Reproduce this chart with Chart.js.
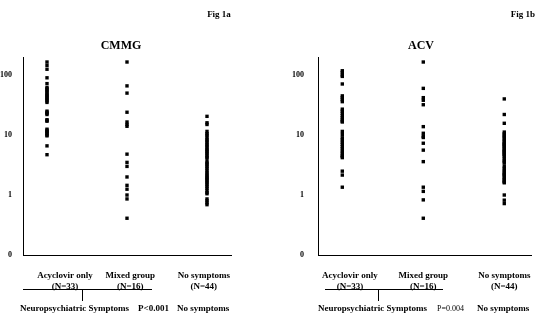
<!DOCTYPE html>
<html>
<head>
<meta charset="utf-8">
<script src="https://cdn.jsdelivr.net/npm/chart.js@4.4.1/dist/chart.umd.min.js"></script>
<style>
  html, body { margin: 0; padding: 0; background: #fff; }
  #wrap { position: relative; width: 546px; height: 323px; }
  .panel { position: absolute; top: 0; width: 273px; height: 323px; }
</style>
</head>
<body>
<div id="wrap">
  <div class="panel" style="left:0"><canvas id="cmmg" width="273" height="323"></canvas></div>
  <div class="panel" style="left:273px"><canvas id="acv" width="273" height="323"></canvas></div>
</div>
<script>
// Patient groups (x categories) and log-axis ticks
const groups = [['Acyclovir only', '(N=33)'], ['Mixed group', '(N=16)'], ['No symptoms', '(N=44)']];
const yTicks = [0.1, 1, 10, 100];
const yTickLabels = ['0', '1', '10', '100'];

// CMMG values per patient
const cmmgAcyclovir = [165, 145, 125, 90, 72, 62, 59, 56, 53, 50, 47, 45, 43, 41, 39, 37, 35,
  25, 24, 23, 22, 18, 17.5, 17, 12.5, 12, 11.5, 11, 10.5, 10, 9.7, 6.6, 4.7];
const cmmgMixed = [165, 66, 50, 24, 16.5, 15, 14, 4.8, 3.5, 3.0, 2.0, 1.45, 1.25, 1.0, 0.86, 0.41];
const cmmgNone = [20.5, 16, 15, 11.5, 10.5, 10, 9.2, 8.5, 8, 7.5, 7, 6.6, 6.2, 5.8, 5.5, 5.2,
  4.9, 4.6, 4.3, 4.1, 3.6, 3.4, 3.2, 3.0, 2.8, 2.6, 2.4, 2.25, 2.1, 2.0, 1.9, 1.8, 1.7, 1.6,
  1.5, 1.4, 1.3, 1.2, 1.1, 1.05, 0.86, 0.8, 0.74, 0.69];

// ACV values per patient
const acvAcyclovir = [118, 110, 100, 95, 71, 45, 42, 39, 36, 27, 25, 23, 21, 19.5, 18, 17, 16.5,
  11.5, 10.2, 9, 8.3, 7.6, 7, 6.4, 5.9, 5.4, 5, 4.6, 4.4, 4.2, 2.5, 2.15, 1.35];
const acvMixed = [165, 60, 42, 38, 32, 13.8, 10.7, 9.5, 9.1, 7.3, 5.6, 3.6, 1.35, 1.15, 0.83, 0.41];
const acvNone = [40, 22, 15.7, 11.2, 10.5, 10, 9.5, 9, 8.5, 8, 7.6, 7.2, 7.0, 6.8, 6.5, 6.2, 5.9,
  5.6, 5.4, 5.3, 5.0, 4.8, 4.7, 4.4, 4.1, 3.8, 3.6, 3.4, 3.0, 2.8, 2.6, 2.45, 2.3, 2.2, 2.15,
  2.0, 1.9, 1.8, 1.7, 1.65, 1.6, 1.0, 0.82, 0.72];

const FONT = '"Liberation Serif", "Times New Roman", serif';

// Title, figure tag and the bracket grouping the symptomatic columns
const notes = {
  id: 'notes',
  afterDraw(chart, args, o) {
    const ctx = chart.ctx;
    ctx.save();
    ctx.fillStyle = '#000';
    ctx.strokeStyle = '#000';
    ctx.lineWidth = 1;
    ctx.textBaseline = 'middle';
    ctx.textAlign = 'center';
    ctx.font = 'bold 12px ' + FONT;
    ctx.fillText(o.title, o.titleX, 46);
    ctx.font = 'bold 9px ' + FONT;
    ctx.fillText(o.fig, o.figX, 15);

    ctx.beginPath();
    ctx.moveTo(o.bracket[0], 289.5);
    ctx.lineTo(o.bracket[1], 289.5);
    ctx.moveTo(o.bracket[2] + 0.5, 289.5);
    ctx.lineTo(o.bracket[2] + 0.5, 301);
    ctx.stroke();

    ctx.textAlign = 'left';
    ctx.font = 'bold 9px ' + FONT;
    ctx.fillText('Neuropsychiatric Symptoms', o.nsX, 309);
    ctx.font = o.pFont + FONT;
    ctx.fillText(o.p, o.pX, 309);
    ctx.font = 'bold 9px ' + FONT;
    ctx.fillText('No symptoms', o.noX, 309);
    ctx.restore();
  }
};

function makePanel(id, series, L) {
  const datasets = series.map((vals, i) => ({
    data: vals.map(v => ({ x: i, y: v })),
    backgroundColor: '#000',
    borderWidth: 0,
    pointStyle: 'rect',
    pointRadius: 2.4
  }));
  return new Chart(document.getElementById(id), {
    type: 'scatter',
    data: { datasets },
    plugins: [notes],
    options: {
      responsive: false,
      animation: false,
      events: [],
      layout: { padding: { top: 57, right: L.right, left: 0, bottom: 0 } },
      plugins: {
        legend: { display: false },
        tooltip: { enabled: false },
        notes: L.notes
      },
      scales: {
        x: {
          type: 'linear',
          min: -0.3,
          max: L.xMax,
          grid: { display: false },
          border: { display: true, color: '#000', width: 1 },
          afterBuildTicks: s => { s.ticks = L.labelAt.map(v => ({ value: v })); },
          afterFit: s => { s.height = 68; },
          ticks: {
            autoSkip: false,
            maxRotation: 0,
            padding: 7,
            color: '#000',
            font: { family: FONT, size: 9, weight: 'bold', lineHeight: 1.2 },
            callback: (v, i) => groups[i]
          }
        },
        y: {
          type: 'logarithmic',
          min: 0.1,
          max: 200,
          grid: { display: false },
          border: { display: true, color: '#000', width: 1 },
          afterBuildTicks: s => { s.ticks = yTicks.map(v => ({ value: v })); },
          afterFit: s => { s.width = L.yWidth; },
          ticks: {
            padding: L.yPad,
            color: '#000',
            font: { family: FONT, size: 8, weight: 'bold' },
            callback: (v, i) => yTickLabels[i]
          }
        }
      }
    }
  });
}

makePanel('cmmg', [cmmgAcyclovir, cmmgMixed, cmmgNone], {
  right: 42, xMax: 2.3, yWidth: 23, yPad: 3,
  labelAt: [0.225, 1.04, 1.96],
  notes: {
    title: 'CMMG', titleX: 121, fig: 'Fig 1a', figX: 219,
    bracket: [23, 152, 82], nsX: 20,
    p: 'P<0.001', pFont: 'bold 9px ', pX: 138, noX: 177
  }
});

makePanel('acv', [acvAcyclovir, acvMixed, acvNone], {
  right: 15, xMax: 2.33, yWidth: 45, yPad: 6,
  labelAt: [0.095, 1.0, 2.0],
  notes: {
    title: 'ACV', titleX: 148, fig: 'Fig 1b', figX: 250,
    bracket: [52, 170, 105], nsX: 45,
    p: 'P=0.004', pFont: '8px ', pX: 164, noX: 204
  }
});
</script>
</body>
</html>
